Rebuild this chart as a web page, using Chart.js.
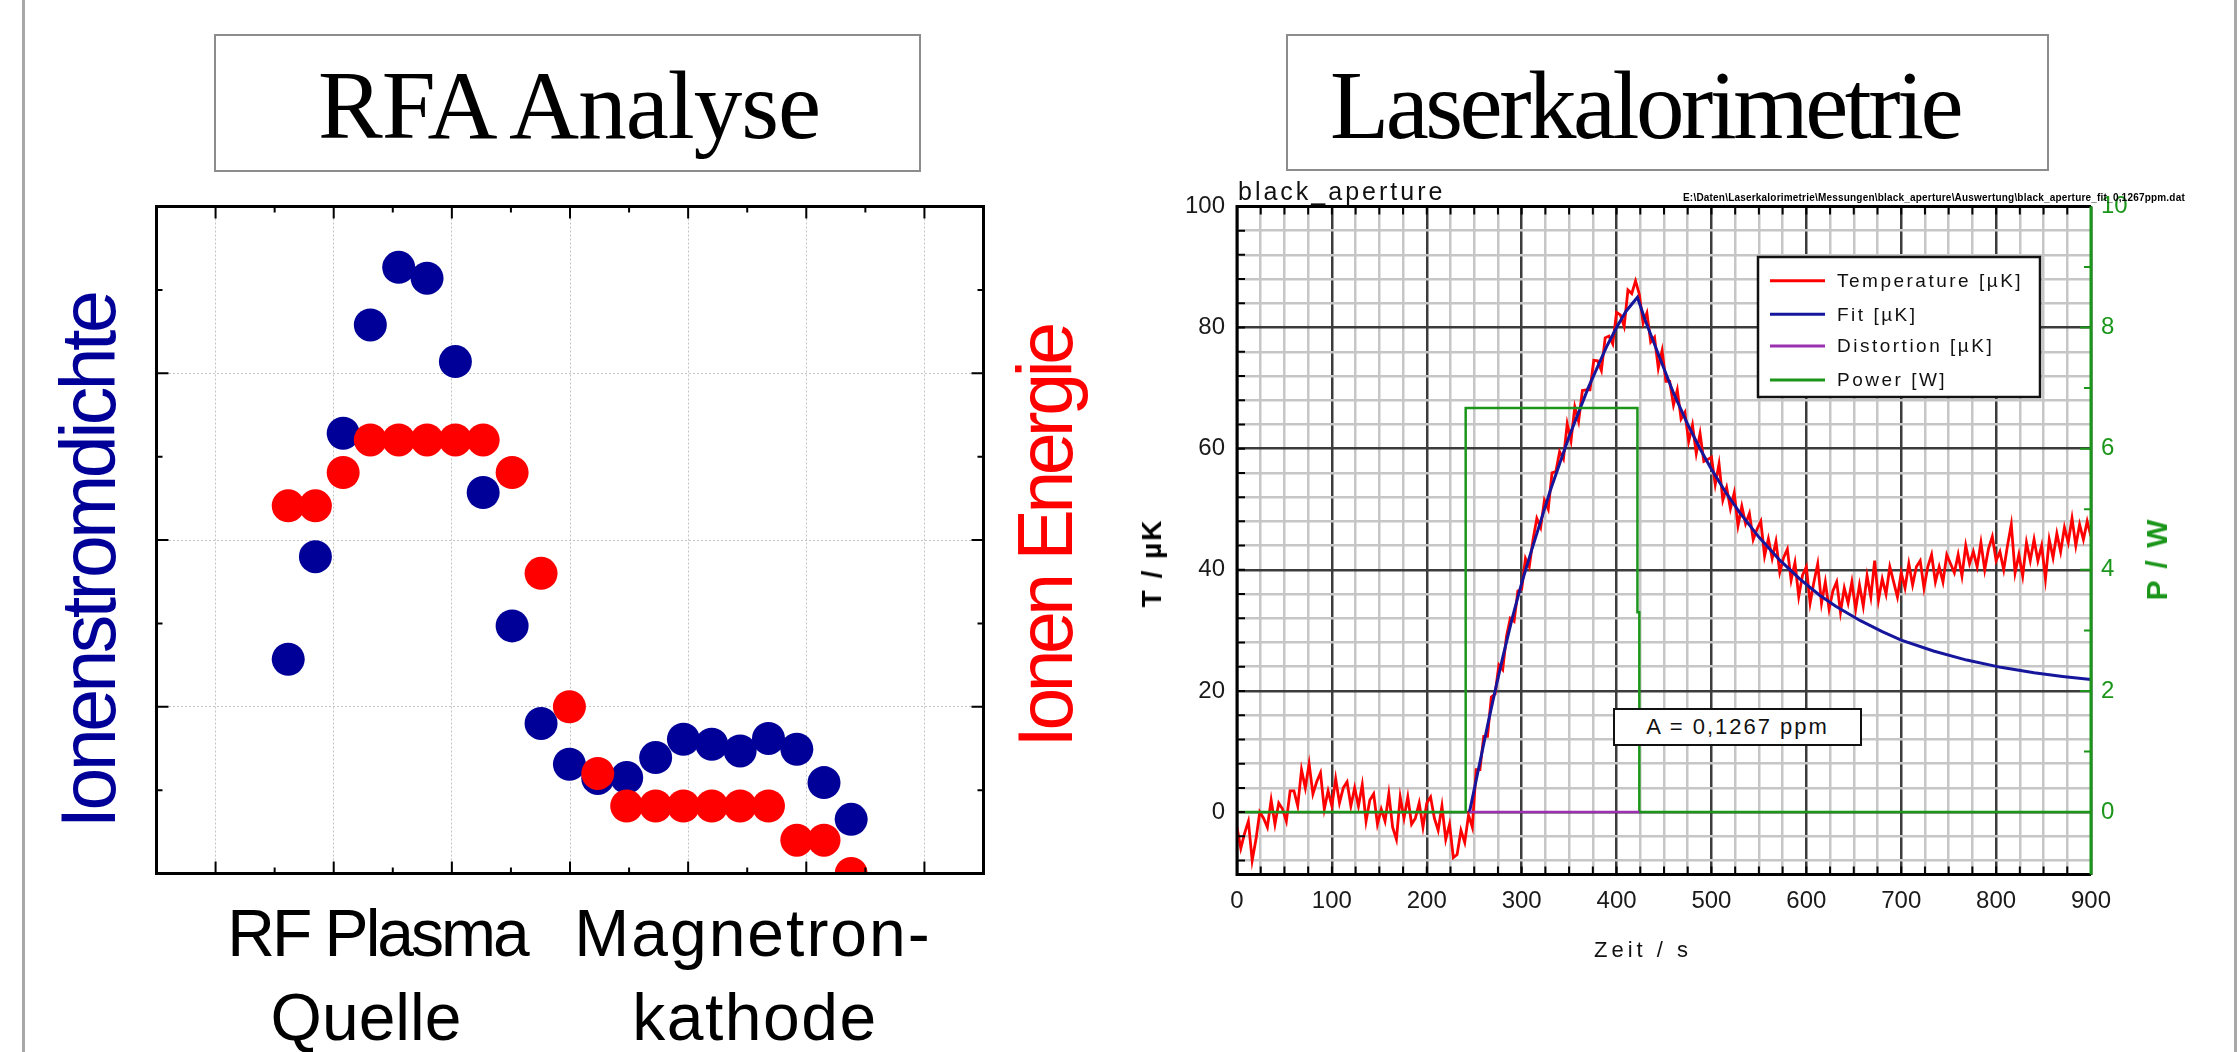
<!DOCTYPE html>
<html>
<head>
<meta charset="utf-8">
<script src="https://cdn.jsdelivr.net/npm/chart.js@4.4.1/dist/chart.umd.min.js"></script>
<style>
  body { margin: 0; width: 2239px; height: 1052px; background: #fff; position: relative; overflow: hidden;
         font-family: "Liberation Sans", Arial, sans-serif; }
  .abs { position: absolute; white-space: nowrap; line-height: 1; }
  .edge { position: absolute; top: 0; width: 3px; height: 1052px; background: #a8a8a8; }
  .titlebox { position: absolute; border: 2px solid #8c8c8c; box-sizing: border-box; background: #fff; }
  .title { position: absolute; white-space: nowrap; line-height: 1; font-family: "Liberation Serif", "Times New Roman", serif;
           font-size: 97px; color: #000; transform: translateX(-50%); }
  .rot { position: absolute; white-space: nowrap; line-height: 1; transform: translate(-50%, -50%) rotate(-90deg); }
  .cat { position: absolute; white-space: nowrap; line-height: 1; font-size: 66px; color: #000; transform: translateX(-50%); }
  canvas { position: absolute; }
</style>
</head>
<body>
<div class="edge" style="left:22px"></div>
<div class="edge" style="left:2234px"></div>

<!-- left panel -->
<div class="titlebox" style="left:214px; top:34px; width:707px; height:138px"></div>
<div class="title" style="left:569px; top:57px; letter-spacing:-1px">RFA Analyse</div>
<div class="rot" style="left:88px; top:561px; font-size:77px; color:#000099; letter-spacing:-3.5px">Ionenstromdichte</div>
<div class="rot" style="left:1045px; top:537px; font-size:77px; color:#ff0000; letter-spacing:-4.5px">Ionen Energie</div>
<div class="cat" style="left:377px; top:900px; letter-spacing:-3px">RF Plasma</div>
<div class="cat" style="left:366px; top:984px">Quelle</div>
<div class="cat" style="left:753px; top:900px; letter-spacing:2px">Magnetron-</div>
<div class="cat" style="left:755px; top:984px; letter-spacing:1.5px">kathode</div>
<canvas id="rfaChart" width="860" height="700" style="left:140px; top:190px"></canvas>

<!-- right panel -->
<div class="titlebox" style="left:1286px; top:34px; width:763px; height:137px"></div>
<div class="title" style="left:1645px; top:57px; letter-spacing:-3.5px">Laserkalorimetrie</div>
<canvas id="kaloChart" width="1099" height="800" style="left:1140px; top:180px"></canvas>
<div class="abs" style="left:1238px; top:179px; font-size:25px; letter-spacing:3px; color:#111">black_aperture</div>
<div class="abs" style="left:1683px; top:193px; font-size:10px; font-weight:bold; letter-spacing:0.2px; color:#000">E:\Daten\Laserkalorimetrie\Messungen\black_aperture\Auswertung\black_aperture_fit_0,1267ppm.dat</div>
<div class="rot" style="left:1152px; top:563px; font-size:28px; font-weight:bold; letter-spacing:2px; color:#000">T / µK</div>
<div class="rot" style="left:2157px; top:559px; font-size:30px; font-weight:bold; letter-spacing:2px; color:#1b961b">P / W</div>
<div class="abs" style="left:1643px; top:939px; font-size:22px; letter-spacing:4px; color:#111; transform:translateX(-50%)">Zeit / s</div>
<div class="abs" style="left:1613px; top:708px; width:249px; height:38px; box-sizing:border-box; border:2px solid #111; background:#fff;
     font-size:22px; letter-spacing:2px; text-align:center; line-height:34px; color:#111">A = 0,1267 ppm</div>

<script>
// ---------- RFA Analyse (left) ----------
const rfaPositions = [2.23, 2.69, 3.16, 3.62, 4.10, 4.58, 5.06, 5.53, 6.02, 6.51, 6.99,
                      7.47, 7.96, 8.45, 8.92, 9.40, 9.88, 10.36, 10.84, 11.30, 11.76];
const ionCurrent = [2.57, 3.80, 5.28, 6.58, 7.27, 7.14, 6.14, 4.57, 2.97, 1.80, 1.31,
                    1.14, 1.15, 1.39, 1.61, 1.55, 1.47, 1.62, 1.49, 1.09, 0.65];
const ionEnergy = [4.41, 4.41, 4.81, 5.20, 5.20, 5.20, 5.20, 5.20, 4.81, 3.60, 2.00,
                   1.20, 0.81, 0.81, 0.81, 0.81, 0.81, 0.81, 0.40, 0.40, 0.00];
const rfaXTicks = [0, 1, 2, 3, 4, 5, 6, 7, 8, 9, 10, 11, 12, 13, 14];
const rfaYTicks = [0, 1, 2, 3, 4, 5, 6, 7, 8];

// ---------- Laserkalorimetrie (right) ----------
const tempStep = 4; // s between samples
const tempValues = [
  -2.5, -6, -3.5, -1.5, -8, -4.5, 0, -1, -2.5, 2, -2, 1.5, 0.5, -1.5, 3.5,
  3.5, 1, 7, 4, 8, 3, 5, 6.5, 0.5, 3.5, 1, 5.5, 1.5, 4, 5,
  1, 4, 1, 4.5, -1.5, 2, 3, -2, 0.5, -1.5, 3, -2.5, -4.5, 2.5, -1,
  2.5, -2, -1, 1.5, -2.5, 1.5, 2.5, -1, -3, 1, -4.5, -2, -7.5, -7, -3,
  -5, -0.5, -2.5, 7, 7, 12.5, 12.5, 19, 19.5, 24.3, 23.5, 29, 32, 31.5, 36.5,
  36.8, 41.9, 40.5, 45, 48.5, 47, 51.5, 50, 56, 56.2, 59.5, 58.3, 64.1, 61.3, 66.9,
  64.5, 69.6, 69.7, 69.7, 74.6, 74.5, 72.9, 78.3, 78.6, 77.3, 82.5, 82.1, 80.2, 86.2, 85.6,
  87.7, 85.5, 80.7, 82.4, 77.6, 78.4, 73.3, 76.2, 71.1, 71.1, 67.2, 69.7, 64.9, 66, 61.2,
  63.9, 59.2, 62.5, 57.9, 58.2, 58.6, 54.1, 57.5, 51.5, 53.6, 50.1, 52.7, 47.3, 50.5, 47.6,
  49.3, 45, 46.7, 48, 42.3, 45.1, 41.9, 44.7, 39.6, 42, 43.4, 38.3, 41.2, 35.6, 39.1,
  40.5, 34.5, 38, 41, 34.5, 38, 33.5, 36.5, 38, 33, 37, 34.5, 38, 33.5, 37.5,
  34, 39, 35.5, 41.5, 35, 38.5, 36, 40.5, 38, 35.5, 39.5, 37, 41, 37.5, 40.5,
  41.5, 37, 40.5, 42.5, 38, 40.5, 38, 42.5, 41, 39.5, 42.5, 39, 44, 41, 43,
  40.5, 44.5, 40, 43.5, 45.5, 41.5, 43, 40, 44, 47.5, 39.5, 42.5, 39, 44.5, 41.5,
  45, 41.5, 44, 38.5, 45, 42, 46, 43, 47, 44.5, 48.5, 44, 47.5, 45, 48,
  45.5
];
const fitTimes = [245, 255, 265, 272, 280, 290, 300, 310, 320, 330, 340, 350, 360, 370, 380, 390, 400, 410, 422, 430,
                  446, 460, 475, 488, 500, 515, 530, 550, 572, 593, 614, 631, 657, 680, 700, 734, 769, 805, 840, 870, 900];
const fitValues = [0, 7.5, 15, 20, 25.5, 32, 37.8, 43, 48, 53, 57.5, 62, 66, 70, 73.5, 77, 80, 82.7, 85, 81.3,
                   74.8, 69.2, 64.0, 60.0, 56.6, 52.8, 49.4, 45.4, 41.6, 38.5, 35.8, 34.0, 31.6, 29.8, 28.4, 26.6, 25.1, 23.9, 23.0, 22.4, 21.9];
const distTimes = [245, 424];
const distValues = [0, 0];
const powerTimes = [0, 241, 241, 422, 422, 424, 424, 900];
const powerValues = [0, 0, 6.67, 6.67, 3.3, 3.3, 0, 0];

const zeitLabels = [0, 100, 200, 300, 400, 500, 600, 700, 800, 900];
const tempLabels = [0, 20, 40, 60, 80, 100];
const powerLabels = [0, 2, 4, 6, 8, 10];

const SANS = '"Liberation Sans", Arial, sans-serif';
const GREEN = '#1b961b';

function range(a, b, step) {
  const out = [];
  for (let v = a; v <= b + 1e-9; v += step) out.push(+v.toFixed(4));
  return out;
}
const zeitGrid = range(0, 900, 25);
const tempGrid = range(-8, 100, 4);
const powerGrid = range(-1, 10, 1);

// ---------- left chart ----------
const rfaFrame = {
  id: 'rfaFrame',
  afterDraw(chart) {
    const { ctx, chartArea: a, scales: { x, y } } = chart;
    ctx.save();
    ctx.strokeStyle = '#000';
    ctx.lineWidth = 2;
    ctx.beginPath();
    rfaXTicks.forEach(v => {
      const px = x.getPixelForValue(v);
      const len = v % 2 ? 12 : 6;
      ctx.moveTo(px, a.bottom); ctx.lineTo(px, a.bottom - len);
      ctx.moveTo(px, a.top); ctx.lineTo(px, a.top + len);
    });
    rfaYTicks.forEach(v => {
      const py = y.getPixelForValue(v);
      const len = v % 2 ? 6 : 12;
      ctx.moveTo(a.left, py); ctx.lineTo(a.left + len, py);
      ctx.moveTo(a.right, py); ctx.lineTo(a.right - len, py);
    });
    ctx.stroke();
    ctx.lineWidth = 3;
    ctx.strokeRect(a.left, a.top, a.width, a.height);
    ctx.restore();
  }
};

new Chart(document.getElementById('rfaChart'), {
  type: 'scatter',
  data: {
    datasets: [
      {
        label: 'Ionenstromdichte',
        data: rfaPositions.map((x, i) => ({ x, y: ionCurrent[i] })),
        backgroundColor: '#000099',
        borderWidth: 0,
        pointRadius: 16.5,
        order: 2,
        clip: 0
      },
      {
        label: 'Ionen Energie',
        data: rfaPositions.map((x, i) => ({ x, y: ionEnergy[i] })),
        backgroundColor: '#ff0000',
        borderWidth: 0,
        pointRadius: 16.5,
        order: 1,
        clip: 0
      }
    ]
  },
  options: {
    responsive: false,
    animation: false,
    events: [],
    layout: { padding: { left: 12, top: 16, right: 12, bottom: 10 } },
    plugins: { legend: { display: false }, tooltip: { enabled: false } },
    scales: {
      x: {
        type: 'linear', min: 0, max: 14,
        afterBuildTicks: s => { s.ticks = rfaXTicks.map(v => ({ value: v })); },
        afterFit: s => { s.height = 0; },
        ticks: { display: false },
        grid: { color: c => (c.tick.value % 2 === 1 ? '#c4c4c4' : 'rgba(0,0,0,0)'), lineWidth: 1, drawTicks: false },
        border: { display: false, dash: [2, 2] }
      },
      y: {
        min: 0, max: 8,
        afterBuildTicks: s => { s.ticks = rfaYTicks.map(v => ({ value: v })); },
        afterFit: s => { s.width = 0; },
        ticks: { display: false },
        grid: { color: c => ([2, 4, 6].includes(c.tick.value) ? '#c4c4c4' : 'rgba(0,0,0,0)'), lineWidth: 1, drawTicks: false },
        border: { display: false, dash: [2, 2] }
      }
    }
  },
  plugins: [rfaFrame]
});

// ---------- right chart ----------
const kaloFrame = {
  id: 'kaloFrame',
  afterDatasetsDraw(chart) {
    const { ctx, chartArea: a, scales: { x, y, y1 } } = chart;
    ctx.save();
    ctx.lineWidth = 2;
    ctx.strokeStyle = '#000';
    ctx.beginPath();
    zeitGrid.forEach(v => {
      const px = x.getPixelForValue(v);
      ctx.moveTo(px, a.bottom); ctx.lineTo(px, a.bottom - 8);
      ctx.moveTo(px, a.top); ctx.lineTo(px, a.top + 8);
    });
    tempGrid.forEach(v => {
      const py = y.getPixelForValue(v);
      ctx.moveTo(a.left, py); ctx.lineTo(a.left + 8, py);
    });
    ctx.stroke();
    ctx.strokeStyle = GREEN;
    ctx.beginPath();
    powerGrid.forEach(v => {
      if (v < 0) return;
      const py = y1.getPixelForValue(v);
      ctx.moveTo(a.right, py); ctx.lineTo(a.right - (v % 2 ? 7 : 11), py);
    });
    ctx.stroke();
    // frame: black left/top/bottom, green right
    ctx.lineWidth = 3;
    ctx.strokeStyle = '#000';
    ctx.beginPath();
    ctx.moveTo(a.right, a.top); ctx.lineTo(a.left, a.top); ctx.lineTo(a.left, a.bottom); ctx.lineTo(a.right, a.bottom);
    ctx.stroke();
    ctx.strokeStyle = GREEN;
    ctx.beginPath();
    ctx.moveTo(a.right, a.top); ctx.lineTo(a.right, a.bottom);
    ctx.stroke();
    ctx.restore();
  }
};

const kaloLegend = {
  id: 'kaloLegend',
  afterDatasetsDraw(chart) {
    const { ctx } = chart;
    const box = { left: 618, top: 77, width: 282, height: 140 };
    const rows = [23.7, 57.3, 89, 123];
    ctx.save();
    ctx.fillStyle = '#fff';
    ctx.fillRect(box.left, box.top, box.width, box.height);
    ctx.lineWidth = 2.5;
    ctx.strokeStyle = '#111';
    ctx.strokeRect(box.left, box.top, box.width, box.height);
    ctx.font = '19px ' + SANS;
    if ('letterSpacing' in ctx) ctx.letterSpacing = '2.5px';
    ctx.textBaseline = 'middle';
    chart.data.datasets.forEach((ds, i) => {
      const yy = box.top + rows[i];
      ctx.strokeStyle = ds.borderColor;
      ctx.lineWidth = 3;
      ctx.beginPath();
      ctx.moveTo(box.left + 12, yy); ctx.lineTo(box.left + 67, yy);
      ctx.stroke();
      ctx.fillStyle = '#111';
      ctx.fillText(ds.label, box.left + 79, yy + 1);
    });
    ctx.restore();
  }
};

new Chart(document.getElementById('kaloChart'), {
  type: 'line',
  data: {
    datasets: [
      {
        label: 'Temperature [µK]',
        data: tempValues.map((v, i) => ({ x: i * tempStep, y: v })),
        borderColor: '#ff0000', borderWidth: 2.8, pointRadius: 0, tension: 0, order: 4, yAxisID: 'y', clip: 0
      },
      {
        label: 'Fit [µK]',
        data: fitTimes.map((t, i) => ({ x: t, y: fitValues[i] })),
        borderColor: '#16169c', borderWidth: 3, pointRadius: 0, tension: 0, order: 3, yAxisID: 'y', clip: 0
      },
      {
        label: 'Distortion [µK]',
        data: distTimes.map((t, i) => ({ x: t, y: distValues[i] })),
        borderColor: '#9b30b0', borderWidth: 2.5, pointRadius: 0, tension: 0, order: 1, yAxisID: 'y', clip: 0
      },
      {
        label: 'Power [W]',
        data: powerTimes.map((t, i) => ({ x: t, y: powerValues[i] })),
        borderColor: GREEN, borderWidth: 2.5, pointRadius: 0, tension: 0, order: 2, yAxisID: 'y1', clip: 0
      }
    ]
  },
  options: {
    responsive: false,
    animation: false,
    events: [],
    layout: { padding: { top: 26 } },
    plugins: { legend: { display: false }, tooltip: { enabled: false } },
    scales: {
      x: {
        type: 'linear', min: 0, max: 900,
        afterBuildTicks: s => { s.ticks = zeitGrid.map(v => ({ value: v })); },
        afterFit: s => { s.height = 105.5; },
        ticks: {
          autoSkip: false, maxRotation: 0, padding: 12, color: '#1a1a1a',
          font: { size: 24, family: SANS },
          callback: v => (zeitLabels.includes(v) ? String(v) : '')
        },
        grid: { color: c => (c.tick.value % 100 === 0 ? '#3c3c3c' : '#c6c6c6'), lineWidth: 2.5, drawTicks: false },
        border: { display: false }
      },
      y: {
        position: 'left', min: -10.3, max: 100,
        afterBuildTicks: s => { s.ticks = tempGrid.map(v => ({ value: v })); },
        afterFit: s => { s.width = 97; },
        ticks: {
          autoSkip: false, padding: 12, color: '#1a1a1a',
          font: { size: 24, family: SANS },
          callback: v => (tempLabels.includes(v) ? String(v) : '')
        },
        grid: { color: c => (c.tick.value % 20 === 0 ? '#3c3c3c' : '#c6c6c6'), lineWidth: 2.5, drawTicks: false },
        border: { display: false }
      },
      y1: {
        position: 'right', min: -1.03, max: 10,
        afterBuildTicks: s => { s.ticks = powerGrid.map(v => ({ value: v })); },
        afterFit: s => { s.width = 148; },
        ticks: {
          autoSkip: false, padding: 10, color: GREEN,
          font: { size: 24, family: SANS },
          callback: v => (powerLabels.includes(v) ? String(v) : '')
        },
        grid: { drawOnChartArea: false, drawTicks: false },
        border: { display: false }
      }
    }
  },
  plugins: [kaloFrame, kaloLegend]
});
</script>
</body>
</html>
